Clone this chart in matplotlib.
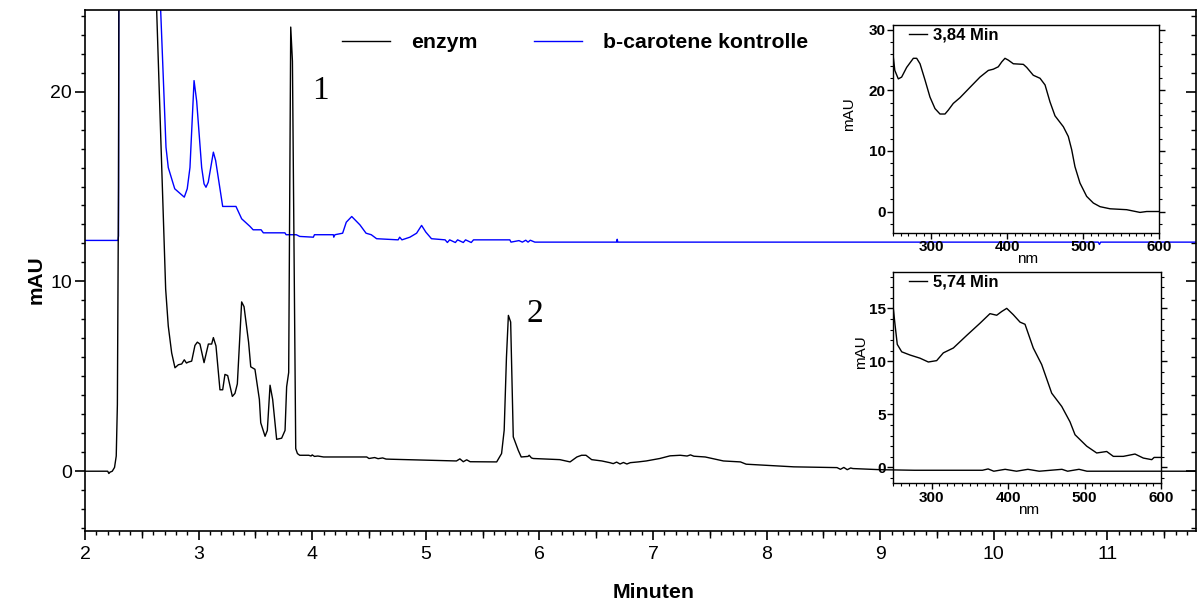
import matplotlib
matplotlib.use("Agg")
import matplotlib.pyplot as plt
from matplotlib.ticker import MultipleLocator
from matplotlib.lines import Line2D

plt.rcParams['font.family'] = ['Liberation Sans', 'DejaVu Sans']

# ---- chromatogram: enzyme sample (retention time in min, absorbance in mAU)
enzym_t = [2.00, 2.20, 2.21, 2.22, 2.24, 2.26, 2.275, 2.285, 2.295, 2.31, 2.58, 2.60,
           2.710, 2.733, 2.763, 2.792, 2.822, 2.851, 2.874, 2.893, 2.910, 2.939, 2.968,
           2.989, 3.012, 3.030, 3.048, 3.086, 3.115, 3.130, 3.153, 3.188, 3.212, 3.232,
           3.256, 3.297, 3.320, 3.341, 3.379, 3.400, 3.440, 3.459, 3.496, 3.535, 3.547,
           3.585, 3.605, 3.629, 3.652, 3.687, 3.731, 3.761, 3.775, 3.793, 3.811, 3.826,
           3.855, 3.870, 3.89, 3.97, 3.99, 4.00, 4.02, 4.05, 4.10, 4.48, 4.50, 4.55, 4.58,
           4.62, 4.65, 4.70, 5.27, 5.30, 5.33, 5.36, 5.39, 5.624, 5.667, 5.690, 5.710,
           5.727, 5.747, 5.761, 5.770, 5.814, 5.840, 5.90, 5.91, 5.93, 5.946, 6.18, 6.27,
           6.33, 6.371, 6.41, 6.46, 6.55, 6.62, 6.65, 6.68, 6.71, 6.74, 6.77, 6.80, 6.87,
           6.94, 7.06, 7.15, 7.24, 7.30, 7.33, 7.36, 7.46, 7.62, 7.77, 7.82, 7.97, 8.09,
           8.24, 8.62, 8.65, 8.68, 8.71, 8.74, 8.76, 9.00, 9.30, 9.90, 9.95, 10.00, 10.10,
           10.20, 10.30, 10.40, 10.60, 10.65, 10.75, 10.82, 11.78]
enzym_mau = [0.0, 0.0, -0.12, -0.05, 0.0, 0.2, 0.8, 3.5, 15.0, 60.0, 60.0, 30.0,
             9.6, 7.65, 6.23, 5.45, 5.61, 5.65, 5.87, 5.70, 5.75, 5.80, 6.63,
             6.80, 6.70, 6.20, 5.72, 6.70, 6.70, 7.04, 6.60, 4.29, 4.29, 5.10,
             5.04, 3.94, 4.10, 4.60, 8.92, 8.67, 6.80, 5.50, 5.37, 3.78, 2.55,
             1.84, 2.15, 4.53, 3.78, 1.68, 1.74, 2.15, 4.45, 5.20, 23.4, 21.6,
             1.19, 0.93, 0.84, 0.84, 0.80, 0.86, 0.78, 0.80, 0.75, 0.75, 0.67, 0.72, 0.66,
             0.70, 0.64, 0.63, 0.54, 0.65, 0.50, 0.60, 0.50, 0.49, 0.93, 2.16, 6.0,
             8.21, 7.86, 4.26, 1.81, 1.10, 0.75, 0.78, 0.84, 0.70, 0.67, 0.61, 0.49,
             0.75, 0.84, 0.84, 0.61, 0.54, 0.45, 0.40, 0.48, 0.38, 0.46, 0.38, 0.45, 0.49,
             0.54, 0.67, 0.81, 0.84, 0.80, 0.86, 0.79, 0.75, 0.54, 0.49, 0.37, 0.32, 0.28,
             0.23, 0.19, 0.10, 0.20, 0.08, 0.17, 0.14, 0.08, 0.05, 0.05, 0.12, 0.0, 0.10,
             0.0, 0.10, 0.0, 0.10, 0.0, 0.10, 0.0, 0.0]

# ---- chromatogram: b-carotene control
kontrolle_t = [2.00, 2.29, 2.295, 2.30, 2.62, 2.64, 2.713, 2.733, 2.772, 2.79, 2.874,
               2.90, 2.924, 2.960, 2.983, 3.027, 3.048, 3.065, 3.085, 3.13, 3.15, 3.212,
               3.329, 3.379, 3.452, 3.48, 3.55, 3.57, 3.76, 3.77, 3.86, 3.89, 4.01, 4.02,
               4.186, 4.19, 4.20, 4.268, 4.30, 4.348, 4.42, 4.474, 4.52, 4.567, 4.757,
               4.77, 4.79, 4.86, 4.919, 4.963, 5.00, 5.05, 5.17, 5.19, 5.21, 5.26, 5.28,
               5.33, 5.35, 5.40, 5.42, 5.535, 5.74, 5.75, 5.82, 5.85, 5.88, 5.90, 5.92,
               5.96, 6.68, 6.685, 6.69, 10.92, 10.93, 10.94, 11.78]
kontrolle_mau = [12.16, 12.16, 12.4, 40.0, 40.0, 28.3, 17.07, 16.0, 15.23, 14.88, 14.44,
                 14.88, 16.0, 20.58, 19.5, 16.0, 15.14, 14.96, 15.23, 16.81, 16.37, 13.95,
                 13.95, 13.3, 12.9, 12.72, 12.72, 12.56, 12.56, 12.46, 12.46, 12.37, 12.33, 12.46,
                 12.46, 12.33, 12.46, 12.54, 13.12, 13.42, 12.98, 12.54, 12.46, 12.25, 12.19,
                 12.33, 12.19, 12.33, 12.54, 12.95, 12.6, 12.25, 12.19, 12.05, 12.19, 12.05, 12.19,
                 12.05, 12.19, 12.05, 12.19, 12.19, 12.19, 12.07, 12.15, 12.07, 12.17, 12.07, 12.17,
                 12.07, 12.07, 12.22, 12.07, 12.07, 11.95, 12.07, 12.07]

# ---- UV/Vis spectrum of peak 1 (3,84 Min)
spec1_nm = [250, 252, 256.6, 261, 267.6, 276.4, 280.8, 285.2, 291.8, 298.3, 304.9, 311.5,
            318.1, 322.5, 329, 337.9, 351, 364.2, 375.2, 381.7, 388.3, 392.8, 397.1, 401.5,
            408.1, 421.3, 425.7, 434.4, 443.3, 449.9, 456.4, 463, 474, 480.5, 485, 489.3,
            495.9, 504.7, 513.5, 522.3, 535.5, 557.4, 575, 583.8, 600]
spec1_mau = [25.5, 23.3, 21.9, 22.2, 23.8, 25.3, 25.3, 24.4, 21.7, 18.9, 17.0, 16.1,
             16.1, 16.75, 17.85, 18.8, 20.5, 22.2, 23.3, 23.5, 23.9, 24.7, 25.3, 25.0,
             24.4, 24.3, 23.8, 22.5, 22.0, 20.9, 18.1, 15.8, 14.0, 12.4, 10.2, 7.4,
             4.7, 2.5, 1.4, 0.8, 0.45, 0.3, -0.15, 0.0, 0.0]

# ---- UV/Vis spectrum of peak 2 (5,74 Min)
spec2_nm = [250, 252.2, 255.2, 261, 271.8, 284.9, 295.8, 306.7, 315.4, 328.5, 346, 363.4,
            376.4, 385.2, 391.7, 398.3, 406.9, 415.7, 422.2, 433, 444, 457.1, 470.2, 481,
            487.6, 502.9, 515.9, 529, 537.7, 550.7, 566, 576.9, 587.9, 591, 600]
spec2_mau = [15.0, 13.5, 11.6, 10.9, 10.6, 10.3, 9.94, 10.07, 10.8, 11.26, 12.45, 13.6,
             14.5, 14.35, 14.7, 15.0, 14.4, 13.7, 13.5, 11.26, 9.7, 7.0, 5.75, 4.3,
             3.08, 2.0, 1.36, 1.5, 1.04, 1.04, 1.26, 0.88, 0.73, 0.94, 0.94]

W, H = 1201, 606
fig = plt.figure(figsize=(W / 100, H / 100), dpi=100)


def fig_rect(x0, y0, x1, y1):
    """Pixel box (left, top, right, bottom) -> figure fraction rect."""
    return [x0 / W, 1 - y1 / H, (x1 - x0) / W, (y1 - y0) / H]


# ---------------- main chromatogram ----------------
ax = fig.add_axes(fig_rect(85, 10, 1196, 531))
ax.plot(kontrolle_t, kontrolle_mau, color='#0000ff', lw=1.0)
ax.plot(enzym_t, enzym_mau, color='black', lw=1.0)
ax.set_xlim(2, 11.78)
ax.set_ylim(-3.15, 24.3)

for s in ax.spines.values():
    s.set_linewidth(1.2)

ax.xaxis.set_major_locator(MultipleLocator(1))
ax.xaxis.set_minor_locator(MultipleLocator(0.1))
ax.yaxis.set_major_locator(MultipleLocator(10))
ax.yaxis.set_minor_locator(MultipleLocator(1))
ax.tick_params(axis='both', which='major', direction='out', length=7, width=1.2,
               labelsize=14, top=False, right=False)
ax.tick_params(axis='both', which='minor', direction='out', length=3.2, width=1.0,
               top=False, right=False)
ax.tick_params(axis='x', which='major', length=6.5, pad=4)
ax.tick_params(axis='y', which='major', pad=2.5)

# half-minute ticks
half = ax.secondary_xaxis('bottom')
half.set_xticks([2.5 + i for i in range(10)])
half.set_xticklabels([])
half.tick_params(direction='out', length=5, width=1.0)
half.spines['bottom'].set_visible(False)

# inward ticks on the right frame
ry = ax.secondary_yaxis('right')
ry.yaxis.set_major_locator(MultipleLocator(10))
ry.yaxis.set_minor_locator(MultipleLocator(1))
ry.tick_params(which='major', direction='in', length=7, width=1.2, labelright=False)
ry.tick_params(which='minor', direction='in', length=3.5, width=1.0)
ry.spines['right'].set_visible(False)

ax.set_xlabel('Minuten', fontsize=15.4, fontweight='bold')
ax.xaxis.set_label_coords((654 - 85) / 1111, -(583 - 531) / 521)
ax.set_ylabel('mAU', fontsize=15, fontweight='bold')
ax.yaxis.set_label_coords((46 - 85) / 1111, (531 - 280) / 521)

ax.text(4.07, 20.05, '1', fontsize=24, family='Liberation Serif', ha='center', va='center')
ax.text(5.96, 8.3, '2', fontsize=24, family='Liberation Serif', ha='center', va='center')

handles = [Line2D([], [], color='black', lw=1.0), Line2D([], [], color='#0000ff', lw=1.0)]
fig.legend(handles, ['enzym', 'b-carotene kontrolle'], loc='center left',
           bbox_to_anchor=(342 / W, 1 - 43 / H), ncol=2, frameon=False,
           prop={'weight': 'bold', 'size': 15.3}, handlelength=2.26, handletextpad=1.0,
           columnspacing=2.65, borderpad=0, borderaxespad=0)


# ---------------- spectra insets ----------------
def spectrum_axes(rect, nm, mau, ylim, ymaj, ymin, label, ylab_xy):
    a = fig.add_axes(rect, facecolor='none')
    a.plot(nm, mau, color='black', lw=1.0)
    a.set_xlim(250, 600)
    a.set_ylim(*ylim)
    for s in a.spines.values():
        s.set_linewidth(1.0)
    a.xaxis.set_major_locator(MultipleLocator(100))
    a.xaxis.set_minor_locator(MultipleLocator(10))
    a.yaxis.set_major_locator(MultipleLocator(ymaj))
    a.yaxis.set_minor_locator(MultipleLocator(ymin))
    a.tick_params(which='major', direction='out', length=4, width=1.0, labelsize=11,
                  left=True, right=True, top=False, pad=1.5)
    a.tick_params(which='minor', direction='out', length=2, width=0.8,
                  left=True, right=True, top=False)
    for t in a.get_xticklabels() + a.get_yticklabels():
        t.set_fontweight('bold')
    a.set_xlabel('nm', fontsize=11)
    a.xaxis.set_label_coords(0.505, -0.095)
    a.set_ylabel('mAU', fontsize=11)
    a.yaxis.set_label_coords(*ylab_xy)
    a.legend([Line2D([], [], color='black', lw=1.0)], [label], loc='upper left',
             bbox_to_anchor=(15.7 / 266, 1 - 2.5 / 208), frameon=False,
             prop={'weight': 'bold', 'size': 12}, handlelength=1.1,
             handletextpad=0.35, borderpad=0, borderaxespad=0)
    return a


spectrum_axes(fig_rect(893.3, 25, 1159, 232.7), spec1_nm, spec1_mau, (-3.5, 30.8), 10, 2,
              '3,84 Min', (-0.14, 0.57))
spectrum_axes(fig_rect(893.3, 272.3, 1161, 483.3), spec2_nm, spec2_mau, (-1.5, 18.4), 5, 1,
              '5,74 Min', (-0.095, 0.62))

fig.savefig('out.png', dpi=100)
